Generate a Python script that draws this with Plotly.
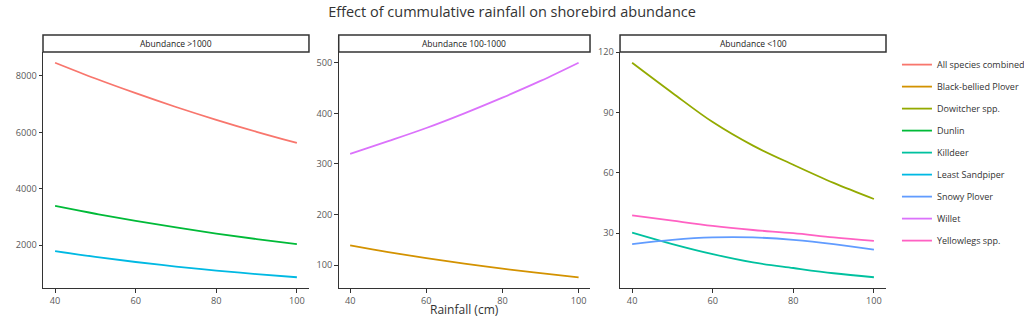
import plotly.graph_objects as go

# Rainfall values at which model predictions are shown
rainfall = [40, 50, 60, 70, 80, 90, 100]

# Predicted abundance per species
all_species = [8470, 7910, 7390, 6900, 6445, 6020, 5624]
black_bellied_plover = [139, 125.7, 113.6, 102.7, 92.9, 84.0, 75.9]
dowitcher = [114.7, 99.7, 85.2, 73.5, 64.0, 55.0, 47.0]
dunlin = [3390, 3113, 2859, 2626, 2412, 2215, 2035]
killdeer = [30.3, 24.6, 19.6, 15.5, 12.7, 10.1, 8.1]
least_sandpiper = [1790, 1584, 1402, 1241, 1098, 972, 860]
snowy_plover = [24.6, 26.7, 27.9, 27.9, 26.7, 24.6, 21.8]
willet = [320, 345, 371, 400, 431, 464, 500]
yellowlegs = [38.9, 36.2, 33.6, 31.6, 30.0, 27.9, 26.2]

species = [
    ("All species combined", all_species, "#F8766D", 1),
    ("Black-bellied Plover", black_bellied_plover, "#D39200", 2),
    ("Dowitcher spp.", dowitcher, "#93AA00", 3),
    ("Dunlin", dunlin, "#00BA38", 1),
    ("Killdeer", killdeer, "#00C19F", 3),
    ("Least Sandpiper", least_sandpiper, "#00B9E3", 1),
    ("Snowy Plover", snowy_plover, "#619CFF", 3),
    ("Willet", willet, "#DB72FB", 2),
    ("Yellowlegs spp.", yellowlegs, "#FF61C3", 3),
]

panel_titles = ["Abundance >1000", "Abundance 100-1000", "Abundance <100"]
panel_dticks = [2000, 100, 30]
x_domains = [[0.0, 0.3155], [0.3508, 0.6489], [0.6845, 1.0]]

fig = go.Figure()
for name, values, color, panel in species:
    suffix = "" if panel == 1 else str(panel)
    fig.add_trace(go.Scatter(
        x=rainfall, y=values, mode="lines", name=name,
        line=dict(color=color, width=1.8, shape="spline", smoothing=1.0),
        xaxis="x" + suffix, yaxis="y" + suffix, legendgroup=name,
    ))

axis_font = dict(family="Open Sans", size=9.2, color="#5A5A5A")
layout = dict(
    width=1024, height=334,
    margin=dict(l=43, r=138, t=52, b=46, autoexpand=False),
    paper_bgcolor="white", plot_bgcolor="white",
    font=dict(family="Open Sans", color="#333"),
    title=dict(text="Effect of cummulative rainfall on shorebird abundance",
               x=0.5, xref="container", xanchor="center", y=0.965, yanchor="middle",
               font=dict(size=14.5, color="#333")),
    legend=dict(x=1.013, xanchor="left", y=1.008, yanchor="top",
                maxheight=320,
                font=dict(size=9, color="#333"), tracegroupgap=3,
                bgcolor="rgba(0,0,0,0)"),
    showlegend=True,
)

# y-range per panel: data span with 5% expansion on both ends
for i in range(3):
    suffix = "" if i == 0 else str(i + 1)
    vals = [v for _, values, _, p in species if p == i + 1 for v in values]
    lo, hi = min(vals), max(vals)
    pad = 0.05 * (hi - lo)
    x_pad = 0.05 * (max(rainfall) - min(rainfall))
    layout["xaxis" + suffix] = dict(
        domain=x_domains[i], anchor="y" + suffix,
        range=[min(rainfall) - x_pad, max(rainfall) + x_pad],
        tickvals=[40, 60, 80, 100], ticks="outside", ticklen=3.5,
        tickcolor="#333", showline=True, linecolor="#333", linewidth=1,
        showgrid=False, zeroline=False, tickfont=axis_font, fixedrange=True,
    )
    layout["yaxis" + suffix] = dict(
        domain=[0, 1], anchor="x" + suffix,
        range=[lo - pad, hi + pad], dtick=panel_dticks[i], tick0=0,
        ticks="outside", ticklen=3.5, tickcolor="#333",
        showline=True, linecolor="#333", linewidth=1,
        showgrid=False, zeroline=False, tickfont=axis_font, fixedrange=True,
    )

shapes = []
annotations = []
for i, title in enumerate(panel_titles):
    x0, x1 = x_domains[i]
    shapes.append(dict(type="rect", xref="paper", yref="paper",
                       x0=x0, x1=x1, y0=1.0, y1=1.072,
                       line=dict(color="#333", width=1.5), fillcolor="white"))
    annotations.append(dict(text=title, xref="paper", yref="paper",
                            x=(x0 + x1) / 2, y=1.036, xanchor="center",
                            yanchor="middle", showarrow=False,
                            font=dict(size=8.5, color="#1A1A1A")))
annotations.append(dict(text="Rainfall (cm)", xref="paper", yref="paper",
                        x=0.5, y=-0.093, xanchor="center", yanchor="middle",
                        showarrow=False, font=dict(size=12, color="#333")))
layout["shapes"] = shapes
layout["annotations"] = annotations

fig.update_layout(**layout)
fig.write_html("out.html")
